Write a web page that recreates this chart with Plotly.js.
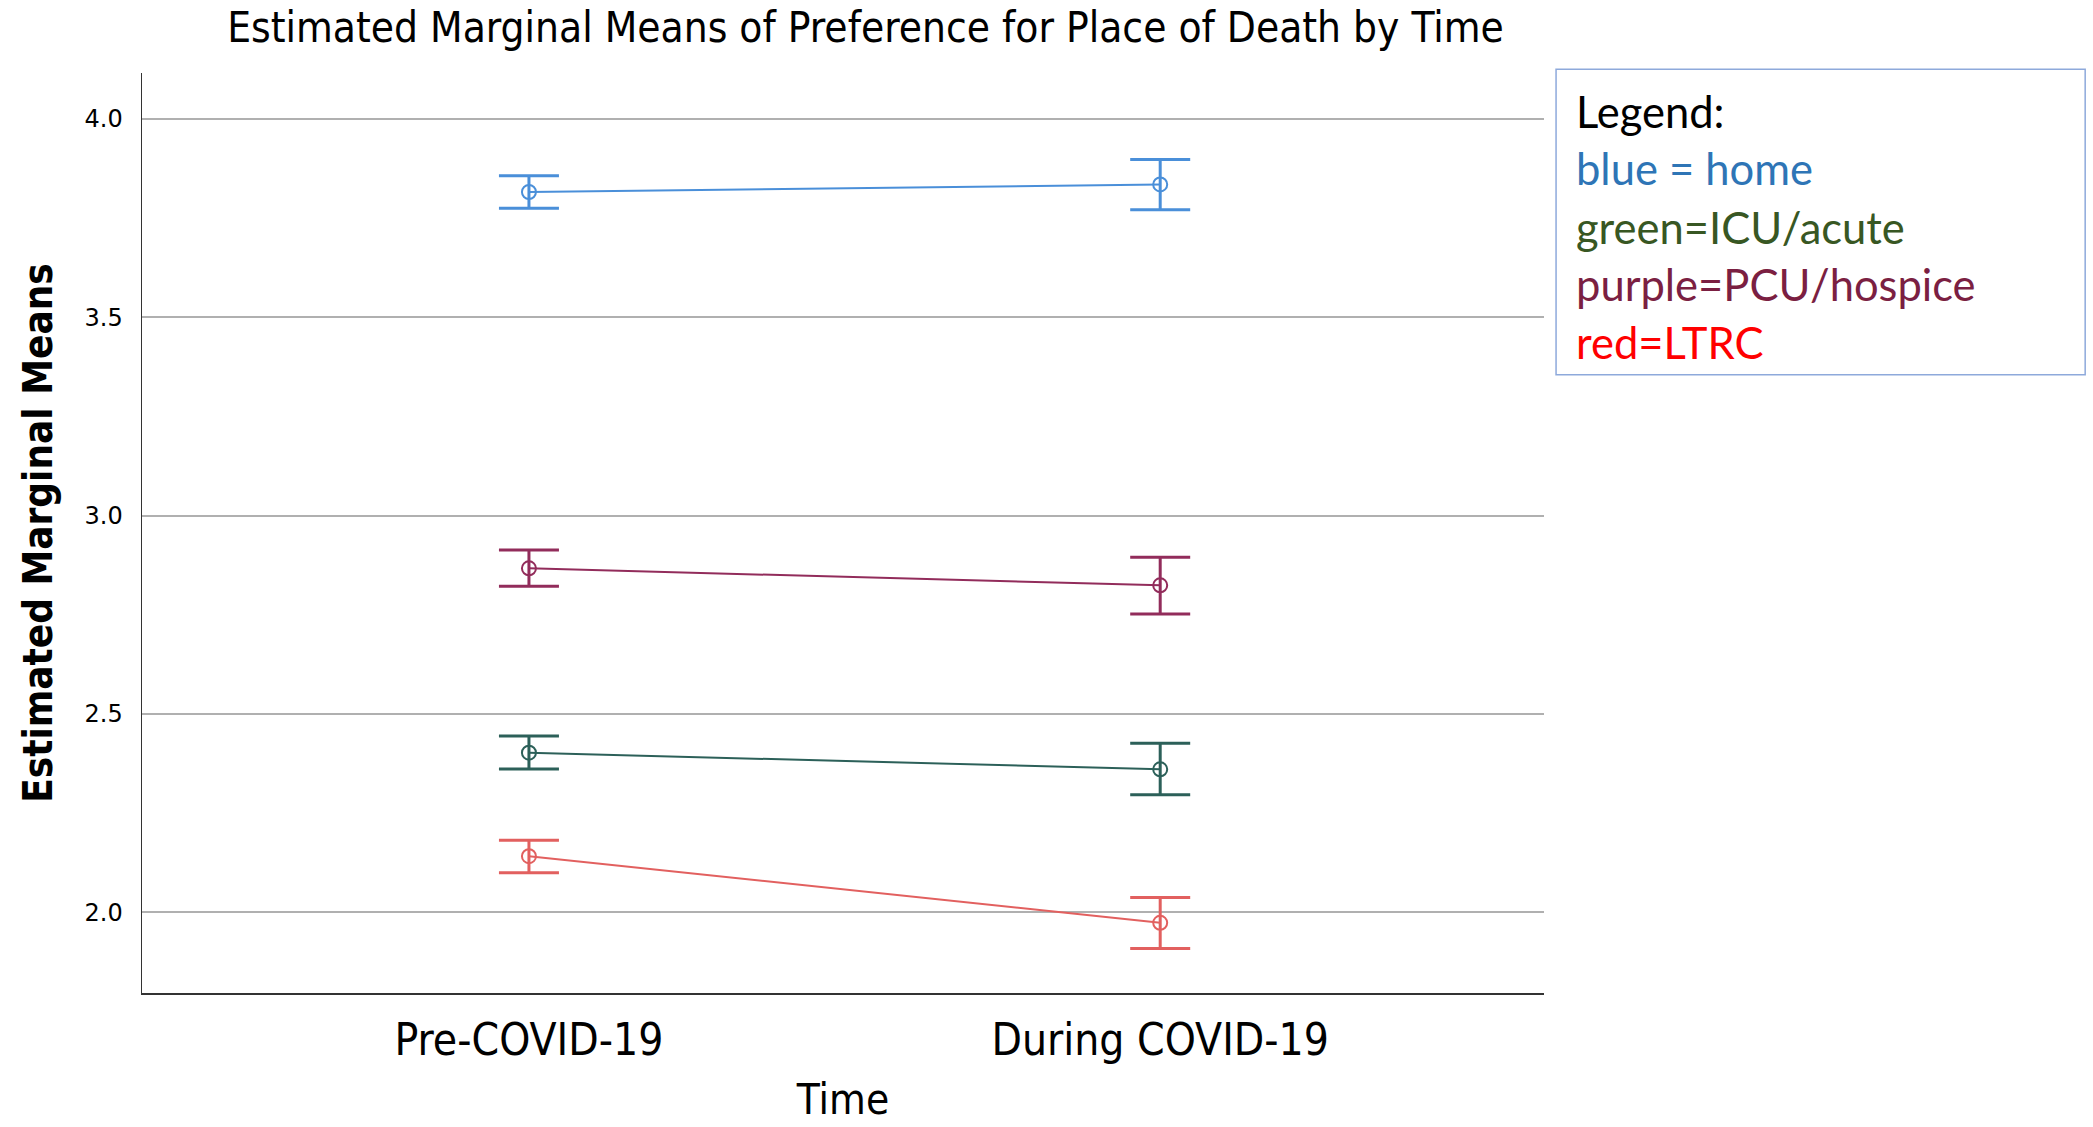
<!DOCTYPE html>
<html>
<head>
<meta charset="utf-8">
<script src="https://cdn.plot.ly/plotly-3.0.1.min.js"></script>
<style>html,body{margin:0;padding:0;background:#fff;}#chart{width:2093px;height:1127px;}</style>
</head>
<body>
<div id="chart"></div>
<script>
// ---- Data ----
const times = ['Pre-COVID-19', 'During COVID-19'];

const homeMean  = [3.816, 3.835];
const homeUpper = [3.857, 3.898];
const homeLower = [3.775, 3.771];

const pcuMean  = [2.867, 2.824];
const pcuUpper = [2.913, 2.895];
const pcuLower = [2.822, 2.752];

const icuMean  = [2.402, 2.360];
const icuUpper = [2.444, 2.426];
const icuLower = [2.361, 2.296];

const ltrcMean  = [2.141, 1.973];
const ltrcUpper = [2.181, 2.037];
const ltrcLower = [2.099, 1.908];

const yTicks = [2.0, 2.5, 3.0, 3.5, 4.0];
const yTickText = ['2.0', '2.5', '3.0', '3.5', '4.0'];

const legendLines = [
  {text: 'Legend:', color: '#000000'},
  {text: 'blue = home', color: '#2E75B6'},
  {text: 'green=ICU/acute', color: '#385723'},
  {text: 'purple=PCU/hospice', color: '#7B1F42'},
  {text: 'red=LTRC', color: '#FF0000'}
];

// ---- Build traces ----
function series(name, mean, upper, lower, color) {
  return {
    type: 'scatter',
    mode: 'lines+markers',
    name: name,
    x: times,
    y: mean,
    line: {color: color, width: 2},
    marker: {symbol: 'circle-open', size: 14, color: color, line: {width: 2, color: color}},
    error_y: {
      type: 'data',
      symmetric: false,
      array: upper.map((u, i) => u - mean[i]),
      arrayminus: lower.map((l, i) => mean[i] - l),
      color: color,
      thickness: 3,
      width: 30
    },
    showlegend: false,
    hoverinfo: 'x+y'
  };
}

const traces = [
  series('home', homeMean, homeUpper, homeLower, '#4A8FD9'),
  series('PCU/hospice', pcuMean, pcuUpper, pcuLower, '#922C5B'),
  series('ICU/acute', icuMean, icuUpper, icuLower, '#2C6059'),
  series('LTRC', ltrcMean, ltrcUpper, ltrcLower, '#E2605F')
];

const condensed = '"Liberation Sans Narrow", "DejaVu Sans Condensed", "Arial Narrow", sans-serif';

// legend box text positions in paper coords
const legendY = [0.9587, 0.8967, 0.8326, 0.7707, 0.7076];
const annotations = legendLines.map((l, i) => ({
  xref: 'paper', yref: 'paper',
  x: 1.0215, y: legendY[i],
  xanchor: 'left', yanchor: 'middle',
  showarrow: false,
  text: l.text,
  font: {family: 'Lato, "Open Sans", sans-serif', size: 43.5, color: l.color}
}));

const layout = {
  width: 2093,
  height: 1127,
  paper_bgcolor: '#ffffff',
  plot_bgcolor: '#ffffff',
  margin: {l: 142, r: 549, t: 73, b: 134, pad: 0},
  title: {
    text: 'Estimated Marginal Means of Preference for Place of Death by Time',
    font: {family: condensed, size: 42, color: '#000000'},
    xref: 'container', yref: 'container',
    x: 0.4135, xanchor: 'center',
    y: 0.976, yanchor: 'middle'
  },
  xaxis: {
    type: 'category',
    range: [-0.613, 1.608],
    showgrid: false,
    zeroline: false,
    showline: true,
    linecolor: '#333333',
    linewidth: 1.5,
    ticks: '',
    ticklabelstandoff: 8,
    tickfont: {family: condensed, size: 44, color: '#000000'},
    title: {text: 'Time', font: {family: condensed, size: 42, color: '#000000'}, standoff: 20},
    automargin: false
  },
  yaxis: {
    range: [1.796, 4.116],
    tickvals: yTicks,
    ticktext: yTickText,
    showgrid: true,
    gridcolor: '#b0b0b0',
    gridwidth: 2,
    zeroline: false,
    showline: true,
    linecolor: '#333333',
    linewidth: 1.5,
    ticks: '',
    ticklabelstandoff: 13,
    tickfont: {family: '"DejaVu Sans", sans-serif', size: 24, color: '#000000'},
    title: {text: '<b>Estimated Marginal Means</b>', font: {family: condensed, size: 40, color: '#000000'}},
    automargin: false
  },
  shapes: [{
    type: 'rect', xref: 'paper', yref: 'paper',
    x0: 1.0086, x1: 1.386, y0: 0.672, y1: 1.004,
    line: {color: '#8EA9DB', width: 1.5},
    fillcolor: 'rgba(0,0,0,0)'
  }],
  annotations: annotations
};

Plotly.newPlot('chart', traces, layout, {displayModeBar: false, staticPlot: true});
</script>
</body>
</html>
